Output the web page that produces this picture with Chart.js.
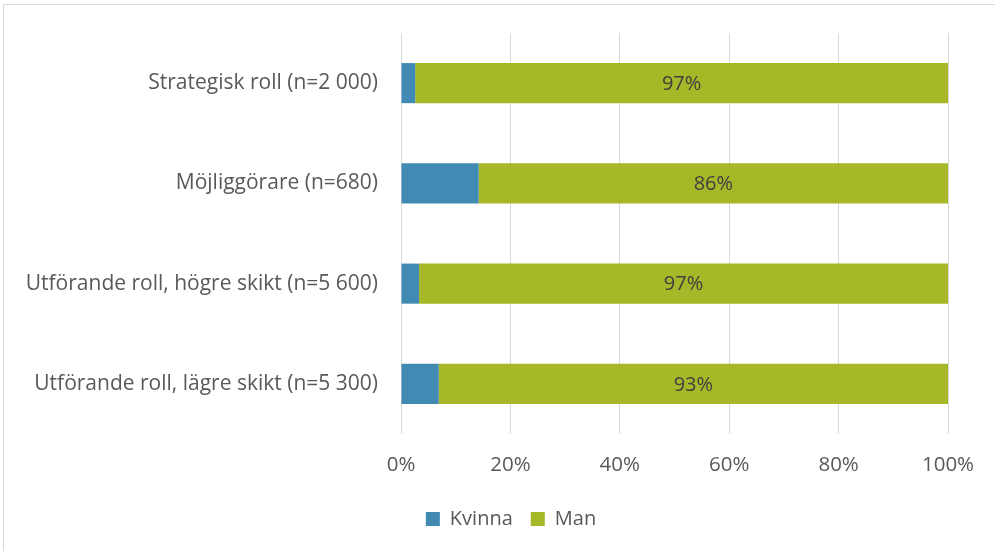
<!DOCTYPE html>
<html>
<head>
<meta charset="utf-8">
<script src="https://cdn.jsdelivr.net/npm/chart.js@4"></script>
<style>
  body { margin: 0; background: #fff; }
  #ram { position: absolute; left: 3px; top: 4px; width: 1000px; height: 560px; border: 1px solid #d9d9d9; }
  #wrap { position: absolute; left: 0; top: 0; width: 995px; height: 551px; }
</style>
</head>
<body>
<div id="ram"></div>
<div id="wrap"><canvas id="diagram"></canvas></div>
<script>
const roller = ["Strategisk roll (n=2 000)", "Möjliggörare (n=680)", "Utförande roll, högre skikt (n=5 600)", "Utförande roll, lägre skikt (n=5 300)"];
const kvinna = [2.6, 14.2, 3.3, 6.9];
const man = [97.4, 85.8, 96.7, 93.1];
const skalsteg = [0, 20, 40, 60, 80, 100];

const textfarg = '#595959';
const typsnitt = 'Open Sans';

// etiketter mitt i de gröna staplarna + flytta förklaringen lite åt höger
const etiketter = {
  id: 'etiketter',
  afterLayout(chart) {
    chart.legend.left = 37;
    chart.legend.right = 985;
  },
  afterDatasetsDraw(chart) {
    const c = chart.ctx;
    const meta = chart.getDatasetMeta(1);
    c.save();
    c.font = '20px ' + typsnitt;
    c.fillStyle = '#404040';
    c.textAlign = 'center';
    c.textBaseline = 'middle';
    meta.data.forEach(function (bar, i) {
      const mitt = (bar.x + bar.base) / 2;
      c.fillText(Math.round(man[i]) + '%', mitt, bar.y + 1);
    });
    c.restore();
  }
};

new Chart(document.getElementById('diagram'), {
  type: 'bar',
  data: {
    labels: roller,
    datasets: [
      { label: 'Kvinna', data: kvinna, backgroundColor: '#418AB3', borderWidth: 0 },
      { label: 'Man', data: man, backgroundColor: '#A6B727', borderWidth: 0 }
    ]
  },
  options: {
    indexAxis: 'y',
    responsive: true,
    maintainAspectRatio: false,
    animation: false,
    barPercentage: 0.4,
    categoryPercentage: 1,
    layout: { padding: { left: 0, right: 47, top: 33, bottom: 12 } },
    scales: {
      x: {
        stacked: true,
        min: 0,
        max: 100,
        afterBuildTicks(scale) { scale.ticks = skalsteg.map(v => ({ value: v })); },
        afterFit(scale) { scale.height = 57; },
        grid: { color: '#d9d9d9', lineWidth: 1, drawTicks: false },
        border: { display: false },
        ticks: {
          color: textfarg,
          font: { family: typsnitt, size: 20.5 },
          padding: 19,
          callback: v => v + '%'
        }
      },
      y: {
        stacked: true,
        grid: { display: false },
        border: { display: false },
        afterFit(scale) { scale.width = 401; },
        ticks: {
          color: textfarg,
          font: { family: typsnitt, size: 21 },
          padding: 15
        }
      }
    },
    plugins: {
      legend: {
        position: 'bottom',
        labels: {
          color: textfarg,
          font: { family: typsnitt, size: 20 },
          boxWidth: 14,
          boxHeight: 14,
          padding: 18
        }
      },
      tooltip: { enabled: false }
    }
  },
  plugins: [etiketter]
});
</script>
</body>
</html>
